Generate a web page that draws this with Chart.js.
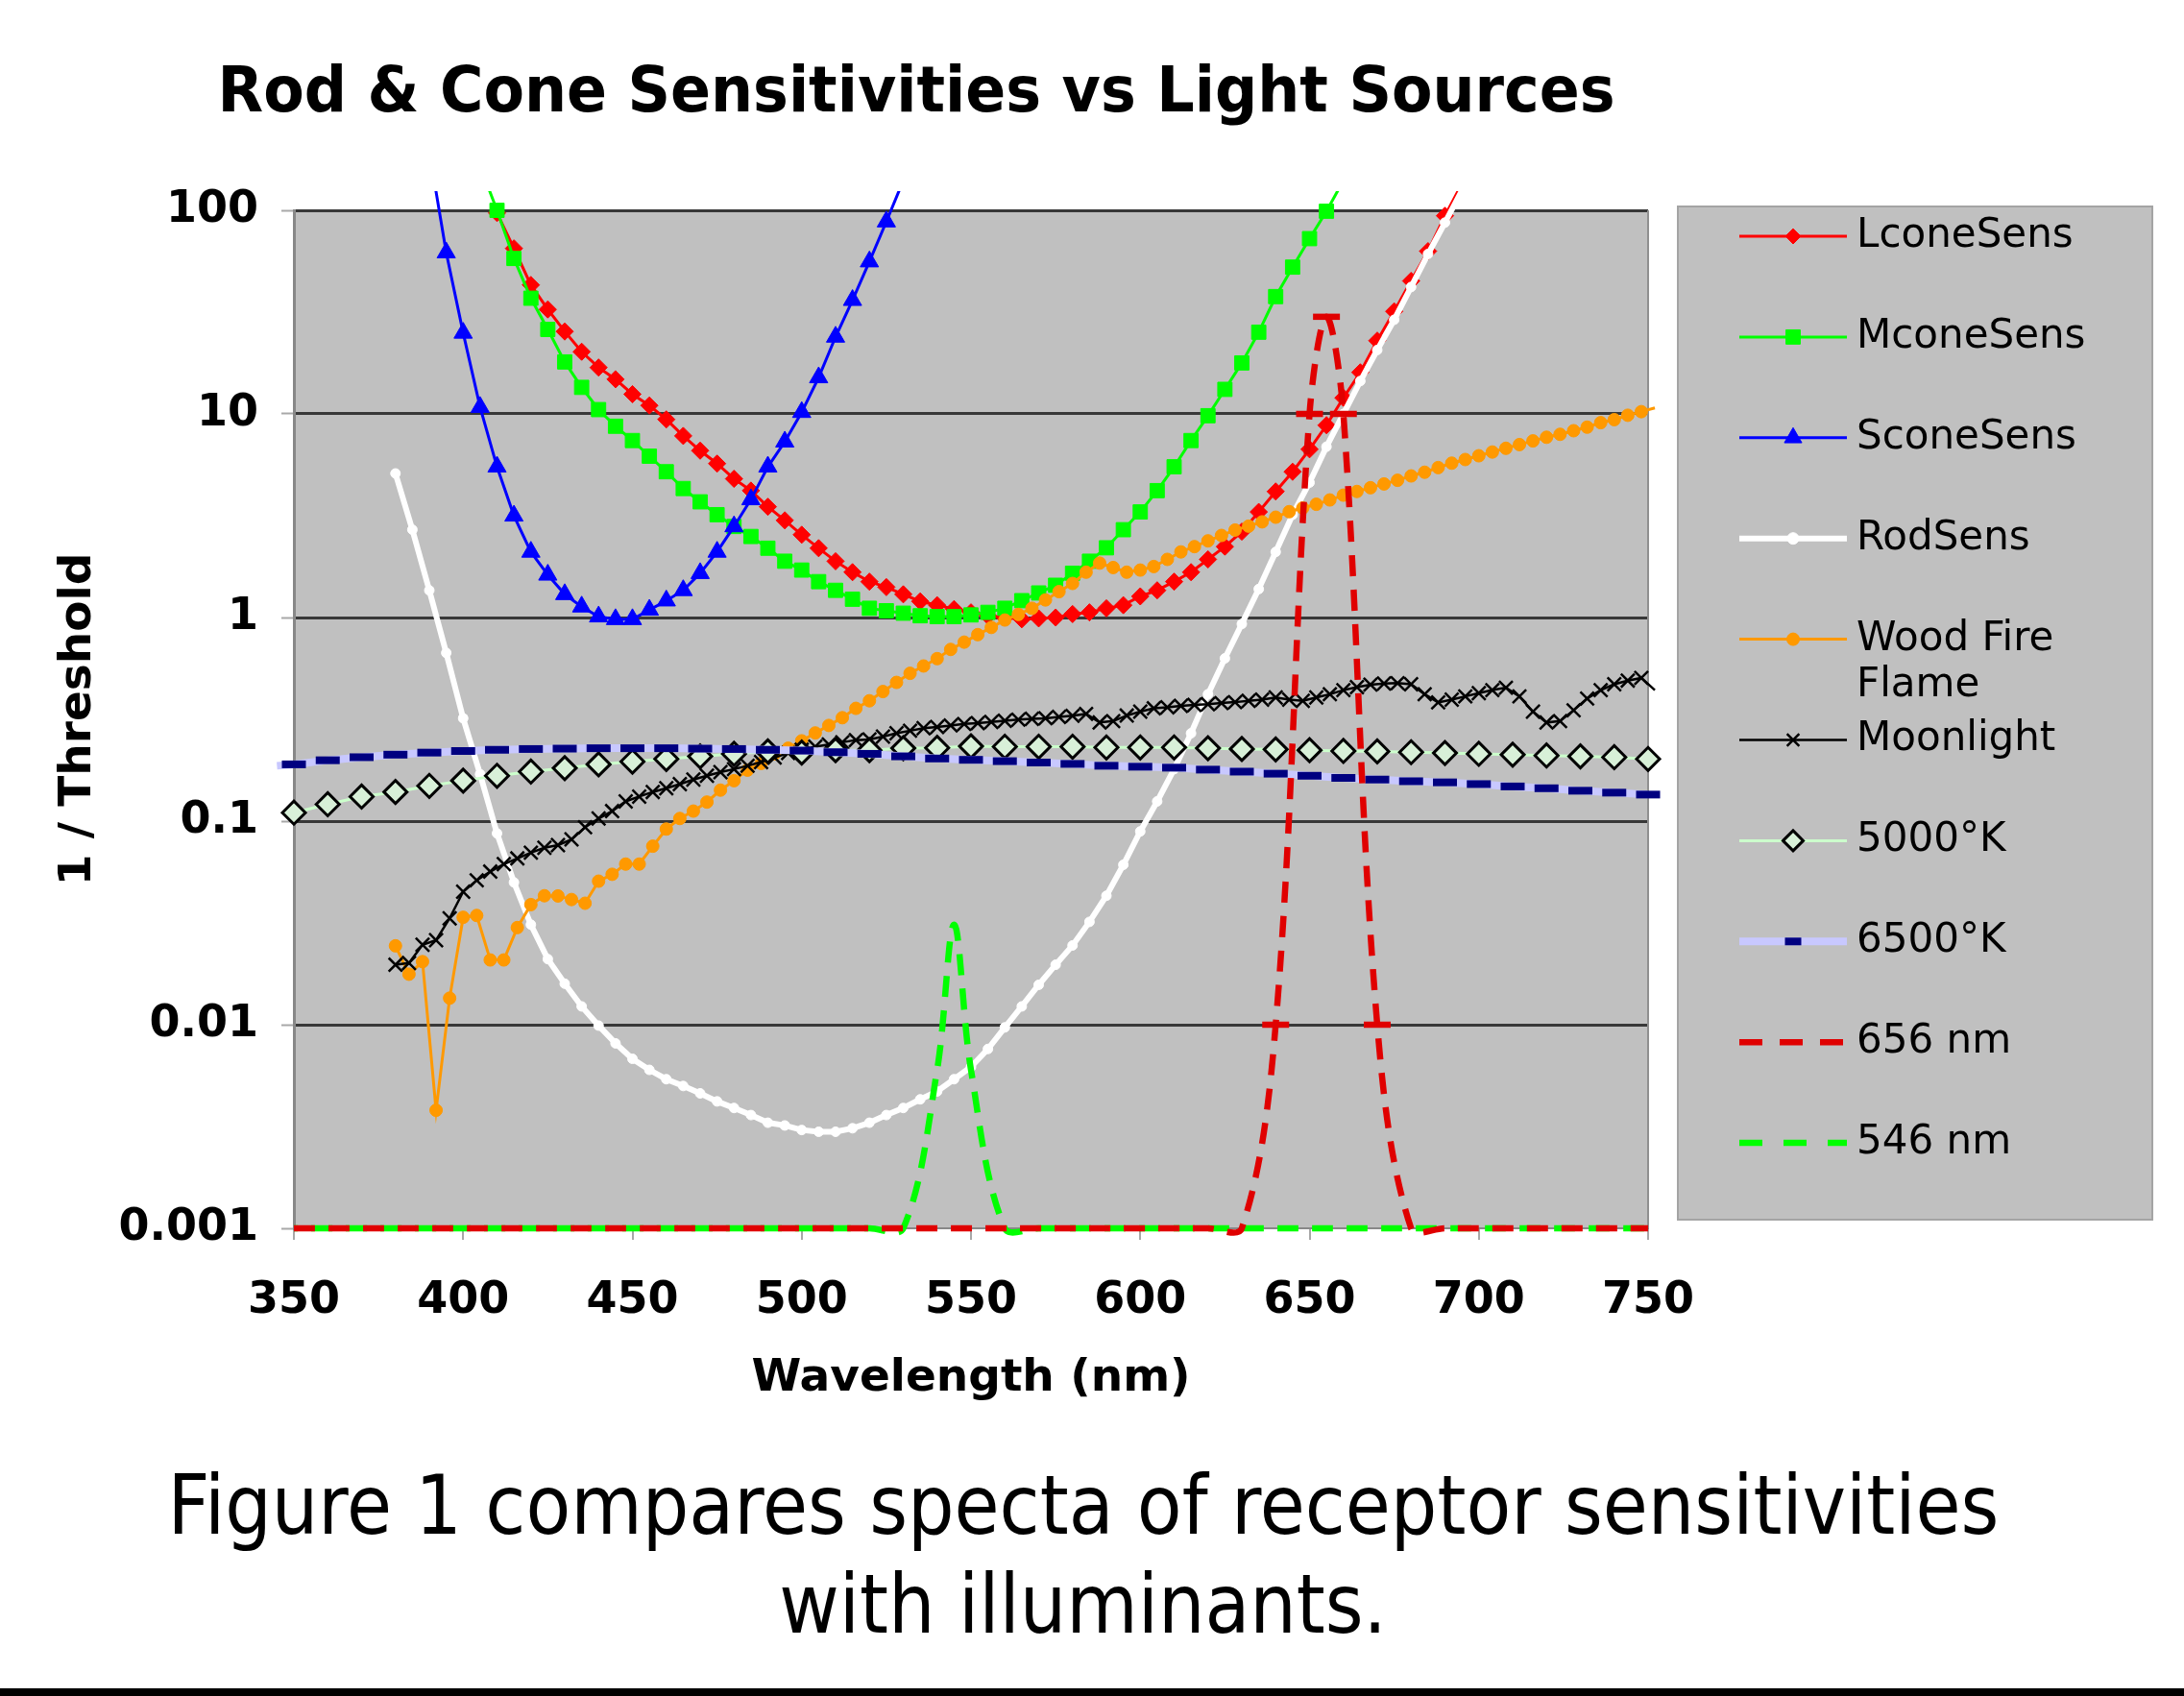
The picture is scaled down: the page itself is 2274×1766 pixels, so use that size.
<!DOCTYPE html>
<html>
<head>
<meta charset="utf-8">
<script src="https://cdn.jsdelivr.net/npm/chart.js"></script>
<style>
  html, body { margin: 0; padding: 0; background: #fff; }
  #wrap { position: relative; width: 2274px; height: 1766px; overflow: hidden; }
  #chart { position: absolute; left: 0; top: 0; }
  .cap { position: absolute; left: 0; width: 2256px; text-align: center; font-family: "DejaVu Sans", Verdana, sans-serif; font-size: 86px; line-height: 101px; color: #000; white-space: nowrap; }
  .cap span { display: inline-block; transform-origin: 50% 50%; }
  #bar { position: absolute; left: 0; top: 1758px; width: 2274px; height: 8px; background: #000; }
</style>
</head>
<body>
<div id="wrap">
  <canvas id="chart" width="2274" height="1766"></canvas>
  <div class="cap" style="top:1517px"><span id="cap1">Figure 1 compares specta of receptor sensitivities</span></div>
  <div class="cap" style="top:1620px"><span id="cap2">with illuminants.</span></div>
  <div id="bar"></div>
</div>
<script>
const titleText = 'Rod & Cone Sensitivities vs Light Sources';
const xTitle = 'Wavelength (nm)';
const yTitle = '1 / Threshold';
const xTicks = [350, 400, 450, 500, 550, 600, 650, 700, 750];
const yTicks = [0.001, 0.01, 0.1, 1, 10, 100];
const yTickLabels = ['0.001', '0.01', '0.1', '1', '10', '100'];

// cone sensitivities, 5 nm steps
const lconeNm = [410,415,420,425,430,435,440,445,450,455,460,465,470,475,480,485,490,495,500,505,510,515,520,525,530,535,540,545,550,555,560,565,570,575,580,585,590,595,600,605,610,615,620,625,630,635,640,645,650,655,660,665,670,675,680,685,690,695];
const lconeVal = [97,65,43,32.6,25.4,20.2,16.9,14.8,12.5,11,9.4,7.8,6.6,5.7,4.8,4.2,3.5,3.0,2.55,2.19,1.89,1.67,1.5,1.41,1.3,1.2,1.15,1.1,1.06,1.02,1.0,0.98,0.99,1.0,1.04,1.06,1.11,1.15,1.27,1.36,1.5,1.67,1.93,2.23,2.64,3.3,4.16,5.2,6.7,8.8,12,16,22.9,31.9,45,63,94,135];

const mconeNm = [405,410,415,420,425,430,435,440,445,450,455,460,465,470,475,480,485,490,495,500,505,510,515,520,525,530,535,540,545,550,555,560,565,570,575,580,585,590,595,600,605,610,615,620,625,630,635,640,645,650,655,660];
const mconeVal = [165,100,58,37,26,18,13.5,10.5,8.7,7.4,6.2,5.2,4.3,3.7,3.2,2.8,2.5,2.19,1.89,1.71,1.5,1.36,1.23,1.11,1.08,1.05,1.02,1.01,1.01,1.03,1.06,1.11,1.21,1.32,1.44,1.65,1.89,2.2,2.7,3.3,4.2,5.5,7.4,9.8,13.2,17.8,25.2,37.7,52.6,72.6,99,140];

const sconeNm = [390,395,400,405,410,415,420,425,430,435,440,445,450,455,460,465,470,475,480,485,490,495,500,505,510,515,520,525,530];
const sconeVal = [195,62,25,10.8,5.5,3.16,2.1,1.62,1.3,1.13,1.01,0.98,0.98,1.09,1.21,1.36,1.65,2.1,2.8,3.8,5.5,7.3,10.2,15.1,23.9,36.2,56,88,140];

const rodNm = [380,385,390,395,400,405,410,415,420,425,430,435,440,445,450,455,460,465,470,475,480,485,490,495,500,505,510,515,520,525,530,535,540,545,550,555,560,565,570,575,580,585,590,595,600,605,610,615,620,625,630,635,640,645,650,655,660,665,670,675,680,685,690,695];
const rodVal = [5.1,2.7,1.36,0.67,0.32,0.17,0.087,0.05,0.031,0.021,0.0159,0.0123,0.0099,0.0081,0.0068,0.006,0.0054,0.005,0.0046,0.0042,0.0039,0.0036,0.0033,0.0032,0.00304,0.00298,0.00298,0.0031,0.0033,0.0036,0.0039,0.0043,0.0047,0.0054,0.0062,0.0076,0.0097,0.0123,0.0157,0.0197,0.0245,0.032,0.043,0.061,0.089,0.125,0.18,0.27,0.42,0.63,0.93,1.38,2.1,3.2,4.6,6.9,10,14.5,20.6,29,42,61,87,125];

// light sources, 4 nm steps
const spec4Nm = [380,384,388,392,396,400,404,408,412,416,420,424,428,432,436,440,444,448,452,456,460,464,468,472,476,480,484,488,492,496,500,504,508,512,516,520,524,528,532,536,540,544,548,552,556,560,564,568,572,576,580,584,588,592,596,600,604,608,612,616,620,624,628,632,636,640,644,648,652,656,660,664,668,672,676,680,684,688,692,696,700,704,708,712,716,720,724,728,732,736,740,744,748,752];
const woodVal = [0.0244,0.0177,0.0204,0.0038,0.0135,0.0337,0.0344,0.0208,0.0208,0.030,
  0.0389,0.043,0.0429,0.0412,0.0395,0.0507,0.0548,0.0615,0.0615,0.0753,
  0.0914,0.103,0.112,0.124,0.142,0.158,0.178,0.192,0.214,0.228,
  0.248,0.271,0.295,0.322,0.358,0.39,0.433,0.48,0.532,0.578,
  0.628,0.697,0.757,0.824,0.894,0.972,1.035,1.11,1.22,1.34,
  1.47,1.67,1.85,1.76,1.67,1.71,1.78,1.93,2.1,2.23,
  2.38,2.53,2.69,2.81,2.95,3.11,3.31,3.45,3.6,3.78,
  3.99,4.16,4.34,4.53,4.72,4.96,5.17,5.45,5.73,5.97,
  6.23,6.5,6.78,7.07,7.37,7.68,7.94,8.27,8.61,9.06,
  9.37,9.85,10.26,10.7];
const moonVal = [0.0197,0.0201,0.0247,0.026,0.0333,0.045,0.0512,0.0565,0.0615,0.0656,
  0.07,0.074,0.0762,0.0813,0.0933,0.103,0.112,0.125,0.132,0.139,
  0.145,0.152,0.16,0.167,0.174,0.18,0.187,0.195,0.205,0.216,
  0.224,0.232,0.238,0.244,0.25,0.252,0.26,0.27,0.278,0.286,
  0.29,0.295,0.3,0.303,0.307,0.311,0.315,0.318,0.32,0.325,
  0.329,0.336,0.305,0.31,0.33,0.345,0.358,0.362,0.368,0.372,
  0.375,0.38,0.384,0.39,0.395,0.405,0.395,0.39,0.405,0.42,
  0.44,0.455,0.468,0.474,0.476,0.47,0.42,0.383,0.395,0.41,
  0.425,0.44,0.452,0.41,0.345,0.305,0.31,0.35,0.4,0.44,
  0.47,0.49,0.505,0.44];

// black bodies, 10 nm steps
const k5000Nm = [350,360,370,380,390,400,410,420,430,440,450,460,470,480,490,500,510,520,530,540,550,560,570,580,590,600,610,620,630,640,650,660,670,680,690,700,710,720,730,740,750];
const k5000Val = [0.11,0.121,0.132,0.139,0.149,0.158,0.167,0.175,0.182,0.19,0.196,0.202,0.208,0.214,0.22,0.217,0.223,0.223,0.228,0.229,0.233,0.232,0.232,0.232,0.23,0.23,0.23,0.228,0.226,0.225,0.223,0.221,0.22,0.218,0.216,0.214,0.212,0.21,0.208,0.206,0.202];
const k6500Nm = [345,350,360,370,380,390,400,410,420,430,440,450,460,470,480,490,500,510,520,530,540,550,560,570,580,590,600,610,620,630,640,650,660,670,680,690,700,710,720,730,740,750,755];
const k6500Val = [0.187,0.19,0.199,0.206,0.212,0.217,0.221,0.224,0.226,0.227,0.228,0.228,0.228,0.227,0.226,0.224,0.222,0.218,0.214,0.208,0.203,0.2,0.197,0.194,0.191,0.187,0.185,0.183,0.179,0.175,0.171,0.167,0.163,0.16,0.157,0.155,0.152,0.148,0.145,0.141,0.138,0.135,0.134];

// emission lines
const line656Nm = [350,360,370,380,390,400,410,420,430,440,450,460,470,480,490,500,510,520,530,540,550,560,570,580,590,600,610,620,630,640,650,655,660,670,680,690,700,710,720,730,740,750];
const line656Val = [0.001,0.001,0.001,0.001,0.001,0.001,0.001,0.001,0.001,0.001,0.001,0.001,0.001,0.001,0.001,0.001,0.001,0.001,0.001,0.001,0.001,0.001,0.001,0.001,0.001,0.001,0.001,0.001,0.001,0.01,10,30,10,0.01,0.001,0.001,0.001,0.001,0.001,0.001,0.001,0.001];
const line546Nm = [350,360,370,380,390,400,410,420,430,440,450,460,470,480,490,500,510,520,530,540,545,550,560,570,580,590,600,610,620,630,640,650,660,670,680,690,700,710,720,730,740,750];
const line546Val = [0.001,0.001,0.001,0.001,0.001,0.001,0.001,0.001,0.001,0.001,0.001,0.001,0.001,0.001,0.001,0.001,0.001,0.001,0.001,0.006,0.031,0.006,0.001,0.001,0.001,0.001,0.001,0.001,0.001,0.001,0.001,0.001,0.001,0.001,0.001,0.001,0.001,0.001,0.001,0.001,0.001,0.001];

const FONT = '"DejaVu Sans", Verdana, sans-serif';
const overflow = { left: 20, top: 20, right: 18, bottom: 14 };

function pts(nm, vals) {
  return nm.map((x, i) => ({ x: x, y: vals[i] }));
}
// markers only inside the plot frame (and off the floor line)
function inside(r, skipFloor) {
  return c => {
    const p = c.raw;
    if (!p || p.x < 350 || p.x > 750 || p.y > 100) return 0;
    if (skipFloor && p.y <= 0.001) return 0;
    return r;
  };
}

const datasets = [
  { label: 'LconeSens', data: pts(lconeNm, lconeVal), borderColor: '#ff0000', borderWidth: 3,
    pointStyle: 'rectRot', markerRadius: 8, pointRadius: inside(9), pointBackgroundColor: '#ff0000', pointBorderColor: '#ff0000', pointBorderWidth: 1 },
  { label: 'MconeSens', data: pts(mconeNm, mconeVal), borderColor: '#00ff00', borderWidth: 3,
    pointStyle: 'rect', markerRadius: 10.5, pointRadius: inside(10.5), pointBackgroundColor: '#00ff00', pointBorderColor: '#00ff00', pointBorderWidth: 1 },
  { label: 'SconeSens', data: pts(sconeNm, sconeVal), borderColor: '#0000ff', borderWidth: 3,
    pointStyle: 'triangle', markerRadius: 10.5, pointRadius: inside(11), pointBackgroundColor: '#0000ff', pointBorderColor: '#0000ff', pointBorderWidth: 1 },
  { label: 'RodSens', data: pts(rodNm, rodVal), borderColor: '#ffffff', borderWidth: 6,
    pointStyle: 'circle', markerRadius: 6, pointRadius: inside(5), pointBackgroundColor: '#ffffff', pointBorderColor: '#ffffff', pointBorderWidth: 1 },
  { label: 'Wood Fire Flame', data: pts(spec4Nm, woodVal), borderColor: '#ff9900', borderWidth: 3,
    pointStyle: 'circle', markerRadius: 6.5, pointRadius: inside(6.5), pointBackgroundColor: '#ff9900', pointBorderColor: '#ff9900', pointBorderWidth: 1 },
  { label: 'Moonlight', data: pts(spec4Nm, moonVal), borderColor: '#000000', borderWidth: 2.5,
    pointStyle: 'crossRot', markerRadius: 9, pointRadius: inside(10), pointBackgroundColor: '#000000', pointBorderColor: '#000000', pointBorderWidth: 2.5 },
  { label: '5000°K', data: pts(k5000Nm, k5000Val), borderColor: '#ccffcc', borderWidth: 3,
    pointStyle: 'rectRot', markerRadius: 10.5, pointRadius: inside(12), pointBackgroundColor: '#d8f0d8', pointBorderColor: '#000000', pointBorderWidth: 3 },
  { label: '6500°K', data: pts(k6500Nm, k6500Val), borderColor: '#c8c8ff', borderWidth: 8,
    pointStyle: 'line', markerRadius: 8.5, pointRadius: inside(12.5), pointBackgroundColor: '#000080', pointBorderColor: '#000080', pointBorderWidth: 8 },
  { label: '656 nm', data: pts(line656Nm, line656Val), borderColor: '#e00000', borderWidth: 6.5, borderDash: [22, 14], legendDash: [24, 18],
    tension: 0.35, capBezierPoints: false,
    pointStyle: 'line', markerRadius: 0, pointRadius: inside(14, true), pointBackgroundColor: '#e00000', pointBorderColor: '#e00000', pointBorderWidth: 6.5 },
  { label: '546 nm', data: pts(line546Nm, line546Val), borderColor: '#00ff00', borderWidth: 6.5, borderDash: [22, 14], borderDashOffset: 18, legendDash: [24, 22],
    tension: 0.35, capBezierPoints: false,
    pointStyle: 'line', markerRadius: 0, pointRadius: 0 }
];
// later series are drawn on top, except the green line stays under the red one
const drawOrder = [10, 9, 8, 7, 6, 5, 4, 3, 1, 2];
datasets.forEach((d, i) => { d.clip = overflow; d.order = drawOrder[i]; d.fill = false; });

const legendBox = { x: 1747, y: 215, w: 494, h: 1055 };

const decor = {
  id: 'decor',
  beforeDraw(chart) {
    const { ctx, chartArea: a } = chart;
    ctx.save();
    ctx.fillStyle = '#ffffff';
    ctx.fillRect(0, 0, chart.width, chart.height);
    ctx.fillStyle = '#c0c0c0';
    ctx.fillRect(a.left, a.top, a.right - a.left, a.bottom - a.top);
    ctx.fillRect(legendBox.x, legendBox.y, legendBox.w, legendBox.h);
    ctx.strokeStyle = '#a4a4a4';
    ctx.lineWidth = 2;
    ctx.strokeRect(legendBox.x, legendBox.y, legendBox.w, legendBox.h);
    ctx.restore();
  },
  beforeDatasetsDraw(chart) {
    const { ctx, chartArea: a } = chart;
    ctx.save();
    ctx.strokeStyle = '#909090';
    ctx.lineWidth = 2;
    ctx.beginPath();
    ctx.moveTo(a.right, a.top);
    ctx.lineTo(a.right, a.bottom);
    ctx.stroke();
    ctx.restore();
  },
  afterDraw(chart) {
    const ctx = chart.ctx;
    // title
    ctx.save();
    ctx.font = 'bold 66px ' + FONT;
    const tw = ctx.measureText(titleText).width;
    ctx.translate(954, 116);
    ctx.scale(1455 / tw, 1);
    ctx.fillStyle = '#000';
    ctx.textAlign = 'center';
    ctx.textBaseline = 'alphabetic';
    ctx.fillText(titleText, 0, 0);
    ctx.restore();

    // legend entries
    chart.data.datasets.forEach((ds, i) => {
      const y = 246 + i * 104.9;
      ctx.save();
      ctx.strokeStyle = ds.borderColor;
      ctx.lineWidth = ds.borderWidth;
      ctx.setLineDash(ds.legendDash || []);
      ctx.beginPath();
      ctx.moveTo(1811, y);
      ctx.lineTo(1923, y);
      ctx.stroke();
      ctx.setLineDash([]);
      if (ds.markerRadius) {
        ctx.fillStyle = ds.pointBackgroundColor;
        ctx.strokeStyle = ds.pointBorderColor;
        ctx.lineWidth = ds.pointBorderWidth;
        Chart.helpers.drawPoint(ctx, { pointStyle: ds.pointStyle, rotation: 0, radius: ds.markerRadius, borderWidth: ds.pointBorderWidth }, 1867, y);
      }
      ctx.fillStyle = '#000';
      ctx.font = '42px ' + FONT;
      ctx.textAlign = 'left';
      ctx.textBaseline = 'middle';
      const words = ds.label.split(' ');
      const lines = [];
      let cur = '';
      words.forEach(w => {
        const t = cur ? cur + ' ' + w : w;
        if (cur && ctx.measureText(t).width > 290) { lines.push(cur); cur = w; } else { cur = t; }
      });
      lines.push(cur);
      lines.forEach((t, k) => ctx.fillText(t, 1933, y + k * 48));
      ctx.restore();
    });
  }
};

const tickFont = { family: FONT, size: 46, weight: 'bold' };
const titleFont = { family: FONT, size: 47, weight: 'bold' };

new Chart(document.getElementById('chart').getContext('2d'), {
  type: 'line',
  data: { datasets: datasets },
  options: {
    responsive: false,
    devicePixelRatio: 1,
    animation: false,
    events: [],
    layout: { padding: { left: 0, top: 219, right: 558, bottom: 0 } },
    plugins: { legend: { display: false }, tooltip: { enabled: false }, title: { display: false } },
    scales: {
      x: {
        type: 'linear', min: 350, max: 750,
        afterBuildTicks: s => { s.ticks = xTicks.map(v => ({ value: v })); },
        afterFit: s => { s.height = 487; },
        ticks: { font: tickFont, color: '#000', padding: 36, maxRotation: 0, autoSkip: false, callback: v => String(v) },
        grid: { drawOnChartArea: false, drawTicks: true, tickLength: 12, color: '#a8a8a8', lineWidth: 2 },
        border: { color: '#888888', width: 2 },
        title: { display: true, text: xTitle, font: titleFont, color: '#000', padding: { top: 0, bottom: 302 } }
      },
      y: {
        type: 'logarithmic', min: 0.001, max: 100,
        afterBuildTicks: s => { s.ticks = yTicks.map(v => ({ value: v })); },
        afterFit: s => { s.width = 306; },
        ticks: { font: tickFont, color: '#000', padding: 24, autoSkip: false, callback: (v, i) => yTickLabels[i] },
        grid: { color: c => (c.tick && c.tick.value === 0.001) ? 'rgba(0,0,0,0)' : '#383838', lineWidth: 3,
                tickColor: '#a8a8a8', tickWidth: 2, tickLength: 13 },
        border: { color: '#888888', width: 3 },
        title: { display: true, text: yTitle, font: titleFont, color: '#000', padding: { top: 54, bottom: 0 } }
      }
    }
  },
  plugins: [decor]
});

// caption: narrow humanist face, fit to the reference line width
const c1 = document.getElementById('cap1');
const c2 = document.getElementById('cap2');
const sx = 1907 / c1.offsetWidth;
c1.style.transform = 'scaleX(' + sx + ')';
c2.style.transform = 'scaleX(' + sx + ')';
</script>
</body>
</html>
